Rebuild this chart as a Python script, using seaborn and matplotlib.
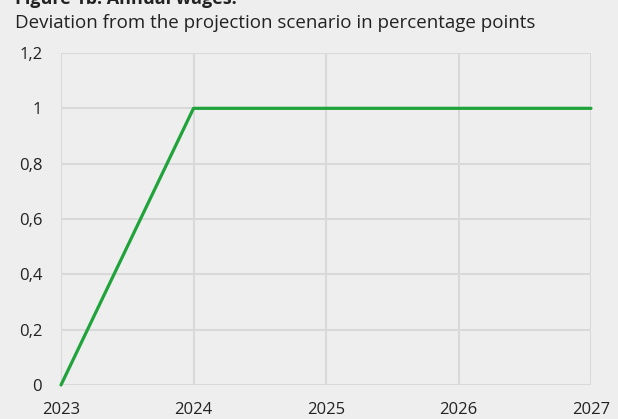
import pandas as pd
import numpy as np
import matplotlib
matplotlib.use('Agg')
import matplotlib.pyplot as plt
import seaborn as sns
from matplotlib.ticker import FuncFormatter, MultipleLocator

# === Data ===
years = [2023, 2024, 2025, 2026, 2027]
deviation = [0, 1, 1, 1, 1]

BG = '#eeeeee'
GRID = '#d9d9d9'
GREEN = '#1fa33a'

sns.set_style('white')
plt.rcParams['font.family'] = ['Open Sans', 'DejaVu Sans']

df = pd.DataFrame({'Year': years, 'Deviation': deviation})

fig = plt.figure(figsize=(6.18, 4.19), dpi=100, facecolor=BG)
ax = fig.add_axes([61 / 618, 1 - 385 / 419, 530 / 618, 332 / 419])
ax.set_facecolor(BG)

sns.lineplot(data=df, x='Year', y='Deviation', ax=ax, color=GREEN,
             linewidth=2.3, clip_on=False, zorder=5)

ax.set_xlim(2023, 2027)
ax.set_ylim(0, 1.2)
ax.xaxis.set_major_locator(MultipleLocator(1))
ax.yaxis.set_major_locator(MultipleLocator(0.2))
ax.xaxis.set_major_formatter(FuncFormatter(lambda v, p: f'{int(round(v))}'))
ax.yaxis.set_major_formatter(FuncFormatter(lambda v, p: f'{round(v, 1):g}'.replace('.', ',')))

ax.grid(True, color=GRID, linewidth=1.5)
ax.set_axisbelow(True)
for s in ax.spines.values():
    s.set_visible(False)
ax.tick_params(axis='both', length=0, labelsize=12, colors='#222222')
ax.tick_params(axis='y', pad=13.5)
ax.tick_params(axis='x', pad=12.5)
ax.set_xlabel('')
ax.set_ylabel('')

# titles (the heading is cut at the top in the original)
fig.text(15 / 618, 1 - 4 / 419, 'Figure 1b: Annual wages.', fontsize=13, fontweight='bold',
         color='#222222', ha='left', va='baseline')
fig.text(15 / 618, 1 - 28 / 419, 'Deviation from the projection scenario in percentage points',
         fontsize=13.5, color='#222222', ha='left', va='baseline')

fig.savefig('out.png', dpi=100, facecolor=BG)
